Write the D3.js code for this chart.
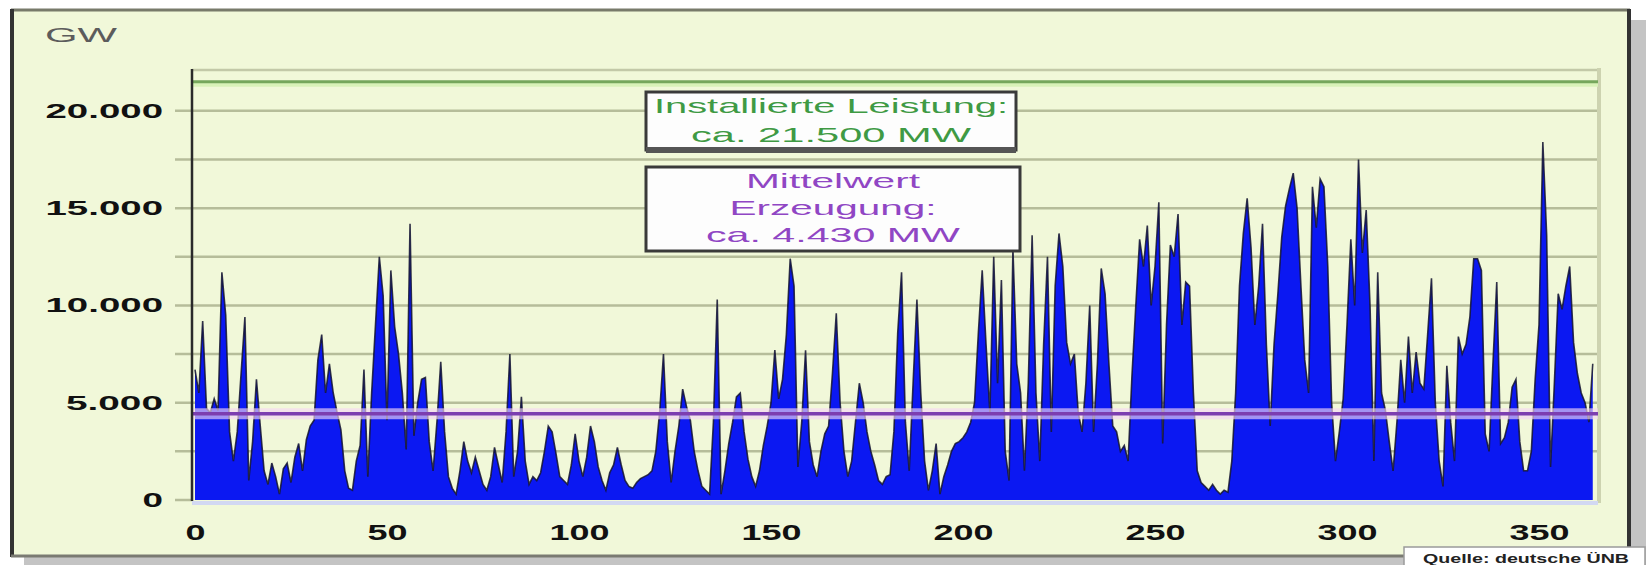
<!DOCTYPE html>
<html><head><meta charset="utf-8">
<script src="https://cdn.jsdelivr.net/npm/d3@7"></script>
<style>body{margin:0;background:#fff;} svg{display:block;}</style>
</head><body><svg id="c" width="1650" height="565"></svg>
<script>
// Daily wind power generation (MW), day 0..364
const windMW = [
 6700,5500,9200,4700,4500,5200,4600,11700,9500,3500, 2000,3500,6500,9400,1000,3000,6200,3800,1500,800,
 1900,1200,300,1600,1900,900,2200,2900,1500,3100, 3800,4100,7200,8500,5500,7000,5500,4500,3600,1500,
 600,500,2000,2800,6700,1200,5500,9000,12500,10500, 4100,11800,8900,7500,5500,2600,14200,3300,5000,6200,
 6300,3000,1500,4000,7100,3500,1200,600,300,1500, 3000,2000,1400,2200,1500,800,500,1200,2700,1800,
 900,3500,7500,1200,2500,5300,2000,800,1200,1000, 1400,2500,3800,3500,2400,1200,1000,800,1800,3400,
 2000,1200,2200,3800,3000,1700,1000,500,1400,1800, 2700,1800,1000,700,600,900,1100,1200,1300,1500,
 2500,4500,7500,3000,900,2500,3800,5700,4800,4100, 2500,1500,700,500,300,4000,10300,300,1500,2900,
 4000,5300,5500,3500,2100,1200,700,1500,2800,3800, 5000,7700,5200,6200,8500,12400,11000,1700,4000,7700,
 3000,1800,1200,2500,3400,3800,6500,9600,5000,2500, 1200,2000,4000,6000,5000,3500,2500,1800,1000,800,
 1200,1300,3500,8600,11700,4000,1500,6000,10300,5500, 2000,500,1500,2900,300,1200,1800,2500,2900,3000,
 3200,3500,4000,5000,8600,11800,8000,4500,12500,6000, 11300,2500,1000,12900,7000,5500,1500,6000,13600,5500,
 2000,8000,12500,3500,11000,13700,12000,8100,7000,7500, 4500,3500,6000,10000,3500,7000,11900,10600,7000,3800,
 3500,2500,2800,2000,6400,10000,13400,12000,14100,10000, 12000,15300,2900,9000,13100,12500,14700,9000,11200,11000,
 5500,1500,900,700,500,800,500,300,500,400, 2000,5500,11000,13700,15500,13000,9000,11000,14200,8000,
 3800,8000,10600,13500,15100,16000,16800,15000,11000,7200, 5500,16100,14000,16500,16100,12000,5000,2000,3500,5200,
 9000,13400,10000,17500,12700,14900,10000,2000,11700,5500, 4600,3000,1500,4000,7200,5000,8400,5500,7600,6000,
 5700,8500,11400,5000,2000,700,6900,4000,2000,8400, 7500,8000,9400,12400,12400,11800,3400,2500,7000,11200,
 2900,3200,4000,5800,6200,3000,1500,1500,2500,6200, 9000,18400,13600,1700,6000,10600,9800,11000,12000,8100,
 6500,5500,5000,4000,7000
];
const installedMW = 21500;
const meanMW = 4430;
const yTickValues = [0, 5000, 10000, 15000, 20000];
const yTickLabels = ["0", "5.000", "10.000", "15.000", "20.000"];
const gridValues = [2500, 5000, 7500, 10000, 12500, 15000, 17500, 20000];
const xTickValues = [0, 50, 100, 150, 200, 250, 300, 350];
const unitLabel = "GW";
const boxInstalledLines = ["Installierte Leistung:", "ca. 21.500 MW"];
const boxMeanLines = ["Mittelwert", "Erzeugung:", "ca. 4.430 MW"];
const sourceLabel = "Quelle: deutsche ÜNB";

const svg = d3.select("#c");
const plotL = 192, plotR = 1598, plotT = 70, plotB = 500;

const x = d3.scaleLinear().domain([0, windMW.length - 1]).range([195, 195 + 3.84 * (windMW.length - 1)]);
const y = d3.scaleLinear().domain([0, 22100]).range([plotB, plotT]);

// outer frame with shadow
svg.append("rect").attr("x", 24).attr("y", 20).attr("width", 1622).attr("height", 545).attr("fill", "#c4c4c4");
svg.append("rect").attr("x", 11).attr("y", 10).attr("width", 1618).attr("height", 547).attr("fill", "#f1f8d9");
svg.append("line").attr("x1", 11).attr("x2", 1630).attr("y1", 10).attr("y2", 10).attr("stroke", "#787a6a").attr("stroke-width", 3);
svg.append("line").attr("x1", 12).attr("x2", 12).attr("y1", 9).attr("y2", 557).attr("stroke", "#333").attr("stroke-width", 4);
svg.append("line").attr("x1", 1629).attr("x2", 1629).attr("y1", 9).attr("y2", 557).attr("stroke", "#333").attr("stroke-width", 4);
svg.append("line").attr("x1", 11).attr("x2", 1631).attr("y1", 556).attr("y2", 556).attr("stroke", "#7a7a72").attr("stroke-width", 3);

// gridlines
svg.append("g").selectAll("line").data(gridValues).join("line")
  .attr("x1", 175).attr("x2", plotR).attr("y1", d => y(d)).attr("y2", d => y(d))
  .attr("stroke", "#b6bd9a").attr("stroke-width", 2.5);
svg.append("line").attr("x1", plotL).attr("x2", plotR).attr("y1", plotT).attr("y2", plotT)
  .attr("stroke", "#c3c9a8").attr("stroke-width", 2.5);
svg.append("line").attr("x1", 175).attr("x2", plotL).attr("y1", plotB).attr("y2", plotB)
  .attr("stroke", "#b6bd9a").attr("stroke-width", 2.5);
svg.append("line").attr("x1", plotR + 1).attr("x2", plotR + 1).attr("y1", plotT - 2).attr("y2", plotB + 3)
  .attr("stroke", "#cdd3b0").attr("stroke-width", 4);

// installed capacity line
svg.append("line").attr("x1", plotL).attr("x2", plotR).attr("y1", y(installedMW) + 3).attr("y2", y(installedMW) + 3)
  .attr("stroke", "#d9f2b8").attr("stroke-width", 4);
svg.append("line").attr("x1", plotL).attr("x2", plotR).attr("y1", y(installedMW)).attr("y2", y(installedMW))
  .attr("stroke", "#76a75c").attr("stroke-width", 3);

// area
const area = d3.area().x((d, i) => x(i)).y0(plotB).y1(d => y(d));
const line = d3.line().x((d, i) => x(i)).y(d => y(d));
svg.append("path").datum(windMW).attr("d", area).attr("fill", "#0b18f2");
svg.append("path").datum(windMW).attr("d", line).attr("fill", "none")
  .attr("stroke", "#14142e").attr("stroke-width", 1.6).attr("stroke-opacity", 0.85);
svg.append("line").attr("x1", plotL).attr("x2", plotR).attr("y1", plotB + 3).attr("y2", plotB + 3)
  .attr("stroke", "#d2d8f2").attr("stroke-width", 4);

// mean line
svg.append("line").attr("x1", plotL).attr("x2", plotR).attr("y1", y(meanMW)).attr("y2", y(meanMW))
  .attr("stroke", "#f5d6f3").attr("stroke-width", 11).attr("stroke-opacity", 0.65);
svg.append("line").attr("x1", plotL).attr("x2", plotR).attr("y1", y(meanMW)).attr("y2", y(meanMW))
  .attr("stroke", "#7c3eb0").attr("stroke-width", 3.5);

// left axis line
svg.append("line").attr("x1", plotL).attr("x2", plotL).attr("y1", plotT - 1).attr("y2", plotB + 1)
  .attr("stroke", "#2a2a2a").attr("stroke-width", 2.5);

// y axis labels
const yAxis = d3.axisLeft(y).tickValues(yTickValues).tickFormat((d, i) => yTickLabels[i]).tickSize(0).tickPadding(29);
const gy = svg.append("g").attr("transform", `translate(${plotL},0)`).call(yAxis);
gy.select(".domain").remove();
gy.selectAll("text")
  .attr("font-family", "Liberation Sans, Arial, sans-serif").attr("font-weight", "bold").attr("font-size", 20)
  .attr("fill", "#111")
  .attr("textLength", (d, i) => { const s = yTickLabels[i]; const nd = s.replace(/\D/g, "").length; const nDot = s.length - nd; return nd * 20.5 + nDot * 15; })
  .attr("lengthAdjust", "spacingAndGlyphs");

// x axis labels
const xAxis = d3.axisBottom(x).tickValues(xTickValues).tickFormat(d => String(d)).tickSize(0).tickPadding(24);
const gx = svg.append("g").attr("transform", `translate(0,${plotB})`).call(xAxis);
gx.select(".domain").remove();
gx.selectAll("text")
  .attr("font-family", "Liberation Sans, Arial, sans-serif").attr("font-weight", "bold").attr("font-size", 22)
  .attr("fill", "#111")
  .attr("textLength", d => String(d).length * 20)
  .attr("lengthAdjust", "spacingAndGlyphs");

// unit label
svg.append("text").attr("x", 45).attr("y", 42).text(unitLabel)
  .attr("font-family", "Liberation Sans, Arial, sans-serif").attr("font-size", 21).attr("fill", "#5c5c5c")
  .attr("textLength", 72).attr("lengthAdjust", "spacingAndGlyphs");

// annotation boxes
function box(x0, y0, w, h, lines, color, centers, widths, bottomShadow) {
  const g = svg.append("g");
  g.append("rect").attr("x", x0).attr("y", y0).attr("width", w).attr("height", h)
    .attr("fill", "#fdfdfd").attr("stroke", "#3a3a3a").attr("stroke-width", 3);
  if (bottomShadow) {
    g.append("line").attr("x1", x0).attr("x2", x0 + w).attr("y1", y0 + h).attr("y2", y0 + h)
      .attr("stroke", "#555", ).attr("stroke-width", 6);
  }
  lines.forEach((t, i) => {
    g.append("text").attr("x", x0 + w / 2).attr("y", centers[i] + 7.5).attr("text-anchor", "middle")
      .attr("font-family", "Liberation Sans, Arial, sans-serif").attr("font-size", 21).attr("fill", color)
      .attr("textLength", widths[i]).attr("lengthAdjust", "spacingAndGlyphs").text(t);
  });
}
box(646, 92, 370, 58, boxInstalledLines, "#3f9a44", [105, 134], [354, 280], true);
box(646, 167, 374, 84, boxMeanLines, "#9046c4", [180, 207, 234], [174, 207, 254], false);

// source box
svg.append("rect").attr("x", 1404).attr("y", 547).attr("width", 241).attr("height", 22)
  .attr("fill", "#fff").attr("stroke", "#9a9a9a").attr("stroke-width", 1.5);
svg.append("text").attr("x", 1526).attr("y", 563).attr("text-anchor", "middle")
  .attr("font-family", "Liberation Sans, Arial, sans-serif").attr("font-weight", "bold").attr("font-size", 13)
  .attr("fill", "#222").attr("textLength", 206).attr("lengthAdjust", "spacingAndGlyphs").text(sourceLabel);
</script></body></html>
